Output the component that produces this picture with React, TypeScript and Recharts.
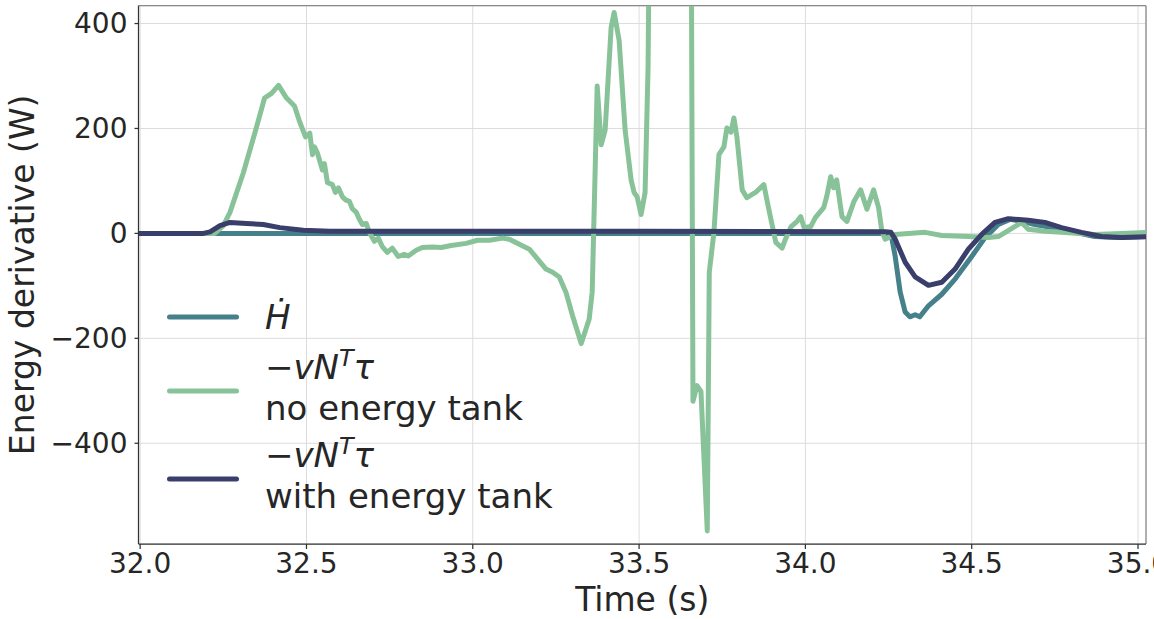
import React from 'react';
import {
  CartesianGrid,
  Legend,
  Line,
  LineChart,
  ReferenceLine,
  XAxis,
  YAxis,
} from 'recharts';

// time axis ticks / value ticks
const xTicks = [32.0, 32.5, 33.0, 33.5, 34.0, 34.5, 35.0];
const yTicks = [-400, -200, 0, 200, 400];

// H dot
const hdotTime = [31.99, 34.245, 34.257, 34.27, 34.285, 34.3, 34.314, 34.33, 34.344, 34.37, 34.41, 34.45, 34.5, 34.54, 34.58, 34.617, 34.65, 34.69, 34.77, 34.87, 34.94, 35.03];
const hdotValue = [0, 0, 0, -44, -112, -150, -159, -155, -159, -138, -116, -87, -44, -8, 17, 27, 23, 17, 8, -6, -8, -6];

// -v N^T tau, no energy tank
const noTankTime = [
  31.99, 32.2, 32.224, 32.25, 32.27, 32.31, 32.35, 32.374, 32.395, 32.416, 32.44, 32.464, 32.48, 32.497, 32.51, 32.518,
  32.524, 32.533, 32.548, 32.554, 32.563, 32.578, 32.587, 32.596, 32.608, 32.617, 32.629, 32.638, 32.65, 32.659, 32.668,
  32.68, 32.689, 32.704, 32.716, 32.728, 32.743, 32.758, 32.776, 32.794, 32.806, 32.83, 32.848, 32.878, 32.905, 32.935,
  32.98, 33.014, 33.05, 33.09, 33.11, 33.17, 33.22, 33.24, 33.26, 33.28, 33.3, 33.326, 33.35, 33.359, 33.374, 33.386,
  33.398, 33.416, 33.425, 33.44, 33.458, 33.476, 33.485, 33.494, 33.506, 33.518, 33.527, 33.535, 33.655, 33.662, 33.674,
  33.686, 33.705, 33.711, 33.725, 33.74, 33.755, 33.764, 33.776, 33.785, 33.794, 33.81, 33.824, 33.85, 33.875, 33.89,
  33.911, 33.93, 33.94, 33.957, 33.975, 33.986, 33.996, 34.016, 34.03, 34.055, 34.064, 34.076, 34.085, 34.094, 34.11,
  34.125, 34.146, 34.166, 34.185, 34.205, 34.22, 34.23, 34.24, 34.25, 34.27, 34.31, 34.36, 34.41, 34.49, 34.55, 34.58,
  34.617, 34.65, 34.67, 34.72, 34.77, 34.87, 34.95, 35.03,
];
const noTankValue = [
  0, 0, 0, 15, 40, 115, 203, 258, 267, 282, 258, 243, 212, 184, 191, 150,
  165, 153, 121, 133, 97, 93, 78, 87, 70, 64, 61, 47, 40, 27, 17,
  19, 2, -15, -9, -25, -36, -28, -44, -40, -43, -32, -27, -26, -27, -23,
  -19, -13, -13, -9, -11, -30, -68, -74, -83, -112, -157, -210, -163, -112, 281, 169,
  197, 393, 421, 368, 197, 102, 78, 70, 36, 78, 317, 900, 900, -320, -290,
  -301, -567, -74, 2, 150, 165, 201, 193, 220, 184, 83, 68, 78, 93, 46,
  -17, -28, -11, 13, 23, 32, 11, 13, 30, 49, 70, 108, 87, 102, 32,
  23, 61, 83, 46, 83, 49, 4, -11, -8, -2, 0, 2, -4, -6, -8, -6,
  8, 21, 8, 4, 2, -2, 0, 2,
];

// -v N^T tau, with energy tank
const withTankTime = [31.99, 32.19, 32.21, 32.24, 32.27, 32.32, 32.37, 32.42, 32.49, 32.57, 33.5, 34.24, 34.257, 34.27, 34.3, 34.33, 34.37, 34.41, 34.45, 34.49, 34.53, 34.57, 34.61, 34.67, 34.72, 34.77, 34.83, 34.89, 34.95, 35.03];
const withTankValue = [0, 0, 3, 15, 21, 19, 17, 11, 6, 4, 4, 3, 2, -11, -55, -83, -99, -93, -68, -30, -2, 21, 28, 25, 21, 11, 2, -6, -8, -6];

const seriesColors = ['#46808a', '#88c299', '#393e6b'];

const zip = (ts: number[], vs: number[]) => ts.map((t, i) => ({ t, v: vs[i] }));

const hdotData = zip(hdotTime, hdotValue);
const noTankData = zip(noTankTime, noTankValue);
const withTankData = zip(withTankTime, withTankValue);

const textColor = '#262626';
const font = "'DejaVu Sans', sans-serif";

const Handle = ({ color }: { color: string }) => (
  <svg width={82} height={10} style={{ flex: 'none' }}>
    <line x1={9.5} x2={76.5} y1={5} y2={5} stroke={color} strokeWidth={5} strokeLinecap="round" />
  </svg>
);

const MathLabel = () => (
  <span>
    −<i>vN</i>
    <sup style={{ fontSize: '0.7em', fontStyle: 'italic', verticalAlign: 'baseline', position: 'relative', top: '-0.55em' }}>T</sup>
    <i>τ</i>
  </span>
);

const renderLegend = () => {
  const rowStyle: React.CSSProperties = { display: 'flex', alignItems: 'center' };
  const textStyle: React.CSSProperties = { marginLeft: 23, lineHeight: '37px', whiteSpace: 'nowrap' };
  return (
    <div style={{ fontFamily: font, fontSize: 34, color: textColor, textAlign: 'left' }}>
      <div style={{ ...rowStyle, height: 46 }}>
        <Handle color={seriesColors[0]} />
        <div style={textStyle}>
          <i>Ḣ</i>
        </div>
      </div>
      <div style={{ ...rowStyle, height: 74, marginTop: 14 }}>
        <Handle color={seriesColors[1]} />
        <div style={{ ...textStyle, marginTop: -6 }}>
          <MathLabel />
          <br />
          no energy tank
        </div>
      </div>
      <div style={{ ...rowStyle, height: 74, marginTop: 14 }}>
        <Handle color={seriesColors[2]} />
        <div style={{ ...textStyle, marginTop: -6 }}>
          <MathLabel />
          <br />
          with energy tank
        </div>
      </div>
    </div>
  );
};

const formatY = (v: number) => (v < 0 ? `−${Math.abs(v)}` : `${v}`);

export default function App() {
  return (
    <div
      style={{
        position: 'absolute',
        left: 0,
        top: 0,
        width: 1154,
        height: 619,
        overflow: 'hidden',
        background: '#fff',
        fontFamily: font,
      }}
    >
      <LineChart width={1154} height={619} margin={{ top: 5.7, right: 8, bottom: 0, left: 0.5 }}>
        <CartesianGrid stroke="#dcdcdc" strokeWidth={1} />
        <XAxis
          dataKey="t"
          type="number"
          domain={[31.995, 35.024]}
          allowDataOverflow
          ticks={xTicks}
          interval={0}
          tickFormatter={(v: number) => v.toFixed(1)}
          tick={{ fontSize: 28, fill: textColor, fontFamily: font }}
          tickSize={5}
          tickMargin={4}
          axisLine={{ stroke: '#333', strokeWidth: 1.25 }}
          tickLine={{ stroke: '#333', strokeWidth: 1.25 }}
          height={75}
          label={{
            value: 'Time (s)',
            position: 'insideBottom',
            offset: 8,
            style: { fontSize: 33, fill: textColor, fontFamily: font },
          }}
        />
        <YAxis
          type="number"
          domain={[-592, 434]}
          allowDataOverflow
          ticks={yTicks}
          interval={0}
          tickFormatter={formatY}
          tick={{ fontSize: 28, fill: textColor, fontFamily: font }}
          tickSize={4}
          tickMargin={7}
          axisLine={{ stroke: '#333', strokeWidth: 1.25 }}
          tickLine={{ stroke: '#333', strokeWidth: 1.25 }}
          width={138}
          label={{
            value: 'Energy derivative (W)',
            angle: -90,
            position: 'insideLeft',
            offset: 22,
            style: { textAnchor: 'middle', fontSize: 33, fill: textColor, fontFamily: font },
          }}
        />
        <ReferenceLine y={434} stroke="#888" strokeWidth={1.25} />
        <ReferenceLine x={35.024} stroke="#888" strokeWidth={1.25} />
        <Legend
          layout="horizontal"
          align="center"
          verticalAlign="middle"
          content={renderLegend}
          wrapperStyle={{ left: 160, top: 294, width: 'auto', height: 'auto' }}
        />
        <Line
          data={hdotData}
          dataKey="v"
          name="hdot"
          type="linear"
          stroke={seriesColors[0]}
          strokeWidth={5}
          strokeLinejoin="round"
          dot={false}
          activeDot={false}
          isAnimationActive={false}
        />
        <Line
          data={noTankData}
          dataKey="v"
          name="no energy tank"
          type="linear"
          stroke={seriesColors[1]}
          strokeWidth={5}
          strokeLinejoin="round"
          dot={false}
          activeDot={false}
          isAnimationActive={false}
        />
        <Line
          data={withTankData}
          dataKey="v"
          name="with energy tank"
          type="linear"
          stroke={seriesColors[2]}
          strokeWidth={5}
          strokeLinejoin="round"
          dot={false}
          activeDot={false}
          isAnimationActive={false}
        />
      </LineChart>
    </div>
  );
}
